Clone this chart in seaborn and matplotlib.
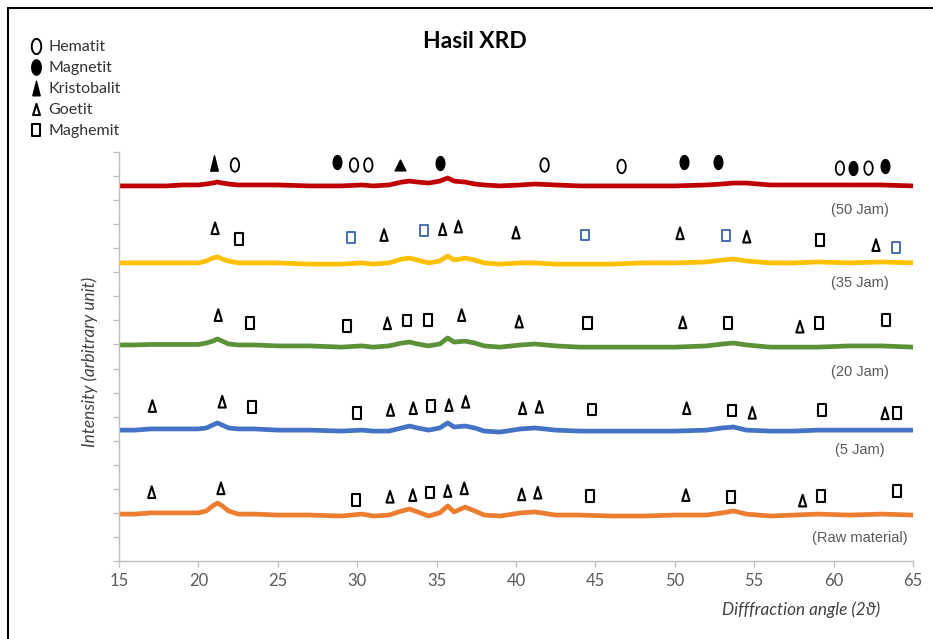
import numpy as np
import pandas as pd
import matplotlib
matplotlib.use("Agg")
import matplotlib.pyplot as plt
from matplotlib.path import Path
from matplotlib.lines import Line2D
import seaborn as sns

# ---------------- data ----------------
angle = [15, 16, 17, 18, 19, 20, 20.5, 20.9, 21.2, 21.5, 21.9, 22.5, 23.5, 25, 27, 29,
         30.3, 31, 32, 32.8, 33.3, 33.8, 34.5, 35.2, 35.7, 36.1, 36.8, 37.4, 38, 39,
         40.3, 41.2, 42.5, 44, 46, 48, 50, 52, 53, 53.7, 54.5, 56, 57.5, 59, 61, 63, 65]

raw_material = [1.95, 1.95, 2.0, 2.0, 2.0, 2.0, 2.08, 2.29, 2.41, 2.29, 2.08, 1.95, 1.95, 1.91, 1.91, 1.87,
                1.95, 1.87, 1.91, 2.08, 2.16, 2.04, 1.87, 2.0, 2.29, 2.04, 2.24, 2.08, 1.91, 1.87,
                2.0, 2.04, 1.91, 1.91, 1.87, 1.87, 1.91, 1.91, 2.0, 2.08, 1.95, 1.87, 1.91, 1.95, 1.91, 1.95, 1.91]
jam_5 = [5.44, 5.44, 5.49, 5.49, 5.49, 5.49, 5.53, 5.65, 5.74, 5.65, 5.53, 5.49, 5.49, 5.44, 5.44, 5.40,
         5.44, 5.40, 5.40, 5.53, 5.61, 5.53, 5.44, 5.53, 5.74, 5.57, 5.61, 5.53, 5.40, 5.36,
         5.49, 5.53, 5.44, 5.40, 5.40, 5.40, 5.40, 5.44, 5.53, 5.57, 5.44, 5.40, 5.40, 5.44, 5.44, 5.44, 5.44]
jam_20 = [8.98, 8.98, 9.0, 9.0, 9.0, 9.0, 9.06, 9.14, 9.23, 9.14, 9.02, 8.98, 8.98, 8.94, 8.94, 8.89,
          8.94, 8.89, 8.94, 9.06, 9.10, 9.02, 8.94, 9.02, 9.27, 9.10, 9.14, 9.06, 8.94, 8.89,
          8.98, 9.02, 8.94, 8.89, 8.89, 8.89, 8.89, 8.94, 9.02, 9.06, 8.98, 8.89, 8.89, 8.89, 8.94, 8.94, 8.89]
jam_35 = [12.39, 12.39, 12.39, 12.39, 12.39, 12.39, 12.47, 12.59, 12.64, 12.55, 12.47, 12.39, 12.39, 12.39, 12.34, 12.34,
          12.39, 12.34, 12.39, 12.55, 12.59, 12.51, 12.39, 12.47, 12.68, 12.51, 12.59, 12.51, 12.39, 12.34,
          12.39, 12.39, 12.34, 12.34, 12.34, 12.39, 12.39, 12.43, 12.51, 12.55, 12.47, 12.39, 12.39, 12.43, 12.39, 12.43, 12.39]
jam_50 = [15.59, 15.59, 15.59, 15.59, 15.63, 15.63, 15.67, 15.71, 15.75, 15.71, 15.67, 15.63, 15.63, 15.63, 15.59, 15.59,
          15.63, 15.59, 15.63, 15.75, 15.79, 15.75, 15.71, 15.79, 15.92, 15.79, 15.75, 15.67, 15.63, 15.59,
          15.63, 15.67, 15.63, 15.59, 15.59, 15.59, 15.59, 15.63, 15.67, 15.71, 15.71, 15.63, 15.63, 15.63, 15.63, 15.63, 15.59]

series_names = ["(Raw material)", "(5 Jam)", "(20 Jam)", "(35 Jam)", "(50 Jam)"]
series_colors = ["#ED7D31", "#4472C4", "#5B9138", "#FFC000", "#C00000"]
label_x = [61.66, 61.66, 61.66, 61.66, 61.66]
label_y = [0.96, 4.61, 7.86, 11.55, 14.59]

hematit_x = [22.3, 29.8, 30.7, 41.8, 46.65, 60.4, 62.2]
hematit_y = [16.46, 16.46, 16.46, 16.46, 16.40, 16.33, 16.33]
magnetit_x = [28.7, 35.2, 50.6, 52.7, 61.24, 63.24]
magnetit_y = [16.60, 16.54, 16.60, 16.60, 16.33, 16.40]
kristobalit_x = [20.98]
kristobalit_y = [16.54]
kristobalit2_x = [32.7]
kristobalit2_y = [16.46]
goetit_x = [21.05, 31.69, 35.38, 36.37, 40.0, 50.33, 54.53, 62.67,
            21.25, 31.9, 36.58, 40.2, 50.5, 57.88,
            17.1, 21.5, 32.1, 33.53, 35.78, 36.83, 40.42, 41.47, 50.75, 54.88, 63.24,
            17.06, 21.42, 32.07, 33.5, 35.7, 36.74, 40.36, 41.37, 50.7, 58.05]
goetit_y = [13.83, 13.55, 13.79, 13.90, 13.65, 13.62, 13.48, 13.13,
            10.22, 9.88, 10.22, 9.95, 9.92, 9.74,
            6.44, 6.62, 6.28, 6.35, 6.48, 6.62, 6.35, 6.41, 6.35, 6.16, 6.14,
            2.86, 3.02, 2.67, 2.74, 2.91, 3.02, 2.77, 2.84, 2.74, 2.51]
maghemit_x = [22.58, 59.14,
              23.25, 29.38, 33.16, 34.48, 44.5, 53.37, 59.1, 63.3,
              23.36, 30.0, 34.63, 44.77, 53.62, 59.25, 63.97,
              29.92, 34.58, 44.66, 53.54, 59.2, 63.97]
maghemit_y = [13.38, 13.34,
              9.88, 9.77, 9.99, 10.02, 9.90, 9.88, 9.88, 10.02,
              6.39, 6.16, 6.44, 6.30, 6.25, 6.28, 6.16,
              2.54, 2.84, 2.70, 2.67, 2.70, 2.91]
maghemit_blue_x = [29.59, 34.2, 44.35, 53.22, 63.93]
maghemit_blue_y = [13.45, 13.73, 13.55, 13.52, 13.02]

legend_labels = ["Hematit", "Magnetit", "Kristobalit", "Goetit", "Maghemit"]
x_ticks = [15, 20, 25, 30, 35, 40, 45, 50, 55, 60, 65]

# ---------------- style ----------------
sns.set_theme(style="white")
plt.rcParams["font.family"] = ["Lato", "DejaVu Sans"]

t = np.linspace(0, 2 * np.pi, 60)
ellipse = Path(np.column_stack([0.62 * np.cos(t), np.sin(t)]), closed=True)
tall_tri = Path([(-0.5, -1), (0.5, -1), (0, 1), (-0.5, -1)], closed=True)
goe_tri = Path([(-0.62, -1), (0.62, -1), (0, 1), (-0.62, -1)], closed=True)
rect = Path([(-0.7, -1), (0.7, -1), (0.7, 1), (-0.7, 1), (-0.7, -1)], closed=True)

fig = plt.figure(figsize=(9.33, 6.39), dpi=100)
ax = fig.add_axes([119 / 933, 1 - 561 / 639, (913 - 119) / 933, (561 - 152) / 639])

rows = []
for name, vals in zip(series_names, [raw_material, jam_5, jam_20, jam_35, jam_50]):
    for a, v in zip(angle, vals):
        rows.append({"angle": a, "intensity": v, "sample": name})
df = pd.DataFrame(rows)

sns.lineplot(data=df, x="angle", y="intensity", hue="sample", hue_order=series_names,
             palette=series_colors, linewidth=3.4, legend=False, ax=ax, sort=False)

for name, lx, ly in zip(series_names, label_x, label_y):
    ax.text(lx, ly, name, ha="center", va="center", fontsize=10.5,
            family=["Liberation Sans", "DejaVu Sans"], color="#595959")

ax.scatter(hematit_x, hematit_y, marker=ellipse, s=95, facecolors="none",
           edgecolors="black", linewidths=1.3, zorder=5)
ax.scatter(magnetit_x, magnetit_y, marker=ellipse, s=100, facecolors="black",
           edgecolors="black", linewidths=1.0, zorder=5)
ax.scatter(kristobalit_x, kristobalit_y, marker=tall_tri, s=120, facecolors="black",
           edgecolors="black", linewidths=1.0, zorder=5)
ax.scatter(kristobalit2_x, kristobalit2_y, marker="^", s=60, facecolors="black",
           edgecolors="black", linewidths=1.0, zorder=5)
ax.scatter(goetit_x, goetit_y, marker=goe_tri, s=70, facecolors="none",
           edgecolors="black", linewidths=1.5, zorder=5)
ax.scatter(maghemit_x, maghemit_y, marker=rect, s=70, facecolors="none",
           edgecolors="black", linewidths=1.5, zorder=5)
ax.scatter(maghemit_blue_x, maghemit_blue_y, marker=rect, s=62, facecolors="none",
           edgecolors="#3A62B0", linewidths=1.3, zorder=5)

ax.set_xlim(15, 65)
ax.set_ylim(0, 17)
ax.set_xticks(x_ticks)
ax.set_xticklabels([str(v) for v in x_ticks])
ax.set_yticks(np.arange(0, 18, 1))
ax.set_yticklabels([])
ax.tick_params(axis="x", direction="out", length=4, width=1, color="#BFBFBF",
               labelsize=12, labelcolor="#595959", pad=5, bottom=True)
ax.tick_params(axis="y", direction="out", length=4.5, width=1, color="#BFBFBF", left=True)
for side in ["top", "right"]:
    ax.spines[side].set_visible(False)
for side in ["left", "bottom"]:
    ax.spines[side].set_color("#BFBFBF")
    ax.spines[side].set_linewidth(1.0)
ax.set_xlabel("")
ax.set_ylabel("")

fig.text(801 / 933, 1 - 610 / 639, "Difffraction angle (2\u03d1)", ha="center", va="center",
         fontsize=12.3, style="italic", color="#404040")
fig.text(90 / 933, 1 - 362 / 639, "Intensity (arbitrary unit)", ha="center", va="center",
         rotation=90, fontsize=12.3, style="italic", color="#404040")
fig.text(475 / 933, 1 - 42 / 639, "Hasil XRD", ha="center", va="center",
         fontsize=16.5, fontweight="bold", color="black")

handles = [
    Line2D([], [], linestyle="none", marker=ellipse, markersize=11, markerfacecolor="none",
           markeredgecolor="black", markeredgewidth=1.4),
    Line2D([], [], linestyle="none", marker=ellipse, markersize=11, markerfacecolor="black",
           markeredgecolor="black"),
    Line2D([], [], linestyle="none", marker=tall_tri, markersize=10.5, markerfacecolor="black",
           markeredgecolor="black"),
    Line2D([], [], linestyle="none", marker=goe_tri, markersize=8, markerfacecolor="none",
           markeredgecolor="black", markeredgewidth=1.5),
    Line2D([], [], linestyle="none", marker=rect, markersize=8, markerfacecolor="none",
           markeredgecolor="black", markeredgewidth=1.5),
]
fig.legend(handles, legend_labels, loc="upper left", bbox_to_anchor=(30 / 933, 1 - 40 / 639),
           frameon=False, fontsize=11.5, labelspacing=0.43, handlelength=0.8,
           handletextpad=0.35, borderpad=0, borderaxespad=0, labelcolor="#333333")

# figure frame (left and top edges visible)
fig.add_artist(Line2D([8 / 933, 8 / 933], [0, 1 - 8 / 639], transform=fig.transFigure,
                      color="black", linewidth=1.5))
fig.add_artist(Line2D([8 / 933, 1], [1 - 8 / 639, 1 - 8 / 639], transform=fig.transFigure,
                      color="black", linewidth=1.5))

fig.savefig("out.png", dpi=100)
